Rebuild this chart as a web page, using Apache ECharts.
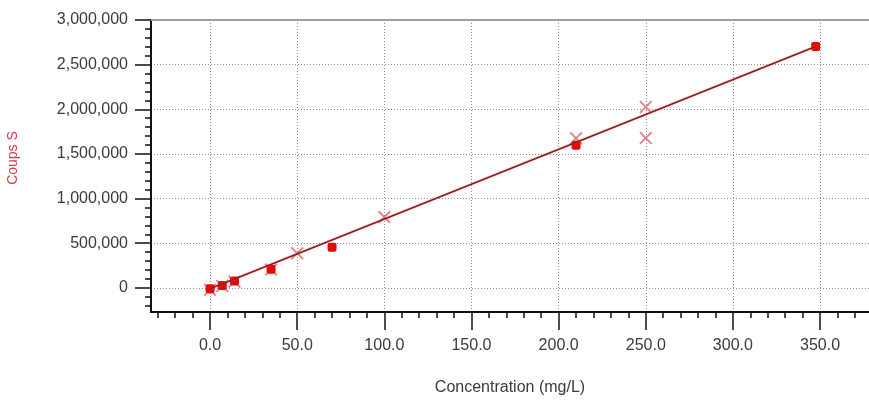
<!DOCTYPE html>
<html>
<head>
<meta charset="utf-8">
<script src="https://cdn.jsdelivr.net/npm/echarts@6/dist/echarts.min.js"></script>
<style>
html,body{margin:0;padding:0;background:#fff;}
#chart{width:869px;height:400px;}
</style>
</head>
<body>
<div id="chart"></div>
<script>
// ---- data ----
const concFilled   = [0, 7, 14, 35, 70, 210, 347.5];
const countsFilled = [-11000, 26000, 78000, 209000, 455000, 1598000, 2704000];
const concCross    = [0, 7, 14, 35, 50, 100, 210, 250, 250];
const countsCross  = [-20000, 22000, 70000, 205000, 388000, 793000, 1676000, 2026000, 1679000];
const fitConc      = [0, 347.5];
const fitCounts    = [-10000, 2704000];
const xMajorTicks  = [0, 50, 100, 150, 200, 250, 300, 350];
const xMinorTicks  = [-30, -20, -10, 10, 20, 30, 40, 60, 70, 80, 90, 110, 120, 130, 140, 160, 170, 180, 190, 210, 220, 230, 240, 260, 270, 280, 290, 310, 320, 330, 340, 360, 370];
const yMajorTicks  = [0, 500000, 1000000, 1500000, 2000000, 2500000, 3000000];
const yMinorTicks  = [-200000, -100000, 100000, 200000, 300000, 400000, 600000, 700000, 800000, 900000, 1100000, 1200000, 1300000, 1400000, 1600000, 1700000, 1800000, 1900000, 2100000, 2200000, 2300000, 2400000, 2600000, 2700000, 2800000, 2900000];
const xTitle = 'Concentration (mg/L)';
const yTitle = 'Coups S';

const X_MIN = -33.9, X_MAX = 378.1;
const Y_MIN = -270000, Y_MAX = 3000000;

const FONT = 'Liberation Sans, Arial, sans-serif';
const zip = (a, b) => a.map((v, i) => [v, b[i]]);
const crossPath = 'path://M0,1 L1,0 L5,4 L9,0 L10,1 L6,5 L10,9 L9,10 L5,6 L1,10 L0,9 L4,5 Z';

const chart = echarts.init(document.getElementById('chart'), null, {renderer: 'canvas'});
const gridLine = {show: true, lineStyle: {color: '#8f8f8f', width: 1, type: [1, 2]}};

chart.setOption({
  animation: false,
  backgroundColor: '#fff',
  grid: {left: 151, top: 20, right: 0, bottom: 88, containLabel: false, outerBoundsMode: 'none'},
  xAxis: [
    {
      type: 'value', min: X_MIN, max: X_MAX, position: 'bottom',
      axisLine: {show: true, onZero: false, lineStyle: {color: '#111', width: 2}},
      axisTick: {show: true, length: 18, customValues: xMajorTicks, lineStyle: {color: '#111', width: 1.5}},
      axisLabel: {show: true, customValues: xMajorTicks, margin: 26, color: '#3a3a3a', fontSize: 16, fontFamily: FONT,
                  formatter: v => v.toFixed(1)},
      splitLine: gridLine,
      name: xTitle, nameLocation: 'middle', nameGap: 68,
      nameTextStyle: {color: '#3a3a3a', fontSize: 16, fontFamily: FONT}
    },
    {
      type: 'value', min: X_MIN, max: X_MAX, position: 'bottom',
      axisLine: {show: false, onZero: false},
      axisTick: {show: true, length: 6, customValues: xMinorTicks, lineStyle: {color: '#111', width: 1.5}},
      axisLabel: {show: false}, splitLine: {show: false}
    },
    {
      type: 'value', min: X_MIN, max: X_MAX, position: 'top',
      axisLine: {show: true, onZero: false, lineStyle: {color: '#a0a0a0', width: 2}},
      axisTick: {show: false}, axisLabel: {show: false}, splitLine: {show: false}
    }
  ],
  yAxis: [
    {
      type: 'value', min: Y_MIN, max: Y_MAX, position: 'left',
      axisLine: {show: true, onZero: false, lineStyle: {color: '#111', width: 2}},
      axisTick: {show: true, length: 16, customValues: yMajorTicks, lineStyle: {color: '#111', width: 1.5}},
      axisLabel: {show: true, customValues: yMajorTicks, margin: 23, color: '#3a3a3a', fontSize: 16, fontFamily: FONT,
                  formatter: v => v.toLocaleString('en-US')},
      splitLine: gridLine,
      name: yTitle, nameLocation: 'middle', nameGap: 131, nameRotate: 90,
      nameTextStyle: {color: '#d8384a', fontSize: 14, fontFamily: FONT, padding: [0, 0, 0, 16]}
    },
    {
      type: 'value', min: Y_MIN, max: Y_MAX, position: 'left',
      axisLine: {show: false, onZero: false},
      axisTick: {show: true, length: 6, customValues: yMinorTicks, lineStyle: {color: '#111', width: 1.5}},
      axisLabel: {show: false}, splitLine: {show: false}
    }
  ],
  series: [
    {
      type: 'line', xAxisIndex: 0, yAxisIndex: 0,
      data: zip(fitConc, fitCounts), symbol: 'none', silent: true,
      lineStyle: {color: '#8c1a1a', width: 1.6, shadowColor: 'rgba(255,120,120,0.6)', shadowBlur: 2}
    },
    {
      type: 'scatter', xAxisIndex: 0, yAxisIndex: 0,
      data: zip(concCross, countsCross), symbol: crossPath, symbolSize: 13,
      itemStyle: {color: '#e0808e', opacity: 1}
    },
    {
      type: 'scatter', xAxisIndex: 0, yAxisIndex: 0,
      data: zip(concFilled, countsFilled), symbol: 'roundRect', symbolSize: 9,
      itemStyle: {color: '#e00a0a', opacity: 1}
    }
  ]
});
</script>
</body>
</html>
